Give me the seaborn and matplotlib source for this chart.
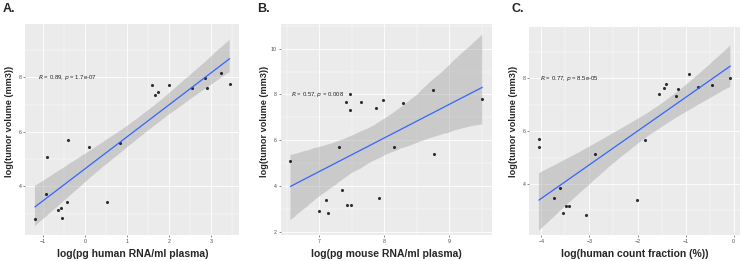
import numpy as np
import pandas as pd
import seaborn as sns
import matplotlib.pyplot as plt
from matplotlib.ticker import MultipleLocator

# ---- data ----
a_x = [-1.20, -0.94, -0.91, -0.66, -0.57, -0.55, -0.44, -0.40, 0.09, 0.53,
       0.84, 1.59, 1.67, 1.75, 1.99, 2.54, 2.86, 2.90, 3.24, 3.45]
a_y = [2.79, 3.73, 5.09, 3.15, 3.22, 2.83, 3.44, 5.72, 5.43, 3.43,
       5.60, 7.72, 7.34, 7.48, 7.73, 7.60, 7.98, 7.63, 8.18, 7.77]

b_x = [6.56, 7.00, 7.10, 7.14, 7.30, 7.35, 7.42, 7.43, 7.48, 7.47,
       7.49, 7.64, 7.88, 7.92, 7.99, 8.15, 8.29, 8.75, 8.77, 9.51]
b_y = [5.11, 2.90, 3.40, 2.82, 5.69, 3.82, 7.68, 3.15, 8.01, 7.34,
       3.15, 7.65, 7.40, 3.49, 7.74, 5.69, 7.62, 8.20, 5.40, 7.80]

c_x = [-4.05, -4.04, -3.74, -3.61, -3.55, -3.49, -3.43, -3.08, -2.88, -2.01,
       -1.85, -1.56, -1.46, -1.41, -1.21, -1.15, -0.93, -0.75, -0.45, -0.07]
c_y = [5.69, 5.42, 3.49, 3.84, 2.91, 3.17, 3.17, 2.82, 5.13, 3.41,
       5.68, 7.40, 7.64, 7.79, 7.34, 7.61, 8.18, 7.69, 7.74, 8.00]

panel_labels = ["A.", "B.", "C."]
x_labels = ["log(pg human RNA/ml plasma)", "log(pg mouse RNA/ml plasma)",
            "log(human count fraction (%))"]
y_label = "log(tumor volume (mm3))"
stats_r = ["0.89", "0.57", "0.77"]
stats_p = ["1.7e-07", "0.008", "8.5e-05"]

# ---- style ----
sns.set_theme(style="darkgrid")
plt.rcParams['font.family'] = ['Liberation Sans', 'DejaVu Sans']

fig = plt.figure(figsize=(7.47, 2.61), dpi=100)
W, H = 747, 261
boxes = [(25.3, 24, 239.3, 235), (280.7, 24, 492, 235), (529.3, 26.7, 740, 235)]
xlims = [(-1.43, 3.68), (6.41, 9.66), (-4.25, 0.13)]
ylims = [(2.22, 9.96), (1.86, 11.08), (2.07, 9.96)]
ann_xy = [(-1.12, 8.0), (6.57, 8.0), (-4.03, 8.0)]
xmaj = [1, 1, 1]
ymaj = [2, 2, 2]
label_x = [3, 257, 512]
ylab_right = [14, 269, 518]

datasets = [(a_x, a_y), (b_x, b_y), (c_x, c_y)]

for i, (xs, ys) in enumerate(datasets):
    l, t, r, b = boxes[i]
    ax = fig.add_axes([l / W, 1 - b / H, (r - l) / W, (b - t) / H])
    df = pd.DataFrame({"x": xs, "y": ys})
    sns.regplot(data=df, x="x", y="y", ax=ax, ci=95, n_boot=2000, seed=1,
                scatter_kws=dict(s=5, color="black", linewidths=0, zorder=3),
                line_kws=dict(color="#3366FF", lw=0.9, zorder=4))
    for coll in ax.collections:
        if coll.__class__.__name__ in ("PolyCollection", "FillBetweenPolyCollection"):
            coll.set_facecolor("#999999")
            coll.set_alpha(0.4)
            coll.set_edgecolor("none")
    ax.set_facecolor("#EBEBEB")
    ax.set_xlim(*xlims[i])
    ax.set_ylim(*ylims[i])
    ax.xaxis.set_major_locator(MultipleLocator(xmaj[i]))
    ax.xaxis.set_minor_locator(MultipleLocator(xmaj[i] / 2))
    ax.yaxis.set_major_locator(MultipleLocator(ymaj[i]))
    ax.yaxis.set_minor_locator(MultipleLocator(ymaj[i] / 2))
    ax.grid(which="major", color="white", lw=0.6)
    ax.grid(which="minor", color="white", lw=0.3)
    ax.set_axisbelow(True)
    for s in ax.spines.values():
        s.set_visible(False)
    ax.tick_params(which="major", length=1.2, width=0.4, color="#333333",
                   labelsize=3.8, labelcolor="#4D4D4D", pad=1.5,
                   bottom=True, left=True)
    ax.tick_params(which="minor", length=0)
    ax.set_xlabel(x_labels[i], fontsize=7.5, fontweight="bold", labelpad=2)
    ax.set_ylabel(y_label, fontsize=6.6, fontweight="bold")
    ax.yaxis.set_label_coords((ylab_right[i] - l) / (r - l), (235 - 121.5) / (b - t))
    ax.xaxis.set_label_coords(0.5, -(249 - b) / (b - t))
    ax.text(ann_xy[i][0], ann_xy[i][1],
            r"$\it{R}$ = " + stats_r[i] + r", $\it{p}$ = " + stats_p[i],
            fontsize=4.3, color="#222222", ha="left", va="center")
    fig.text(label_x[i] / W, 1 - 9.5 / H, panel_labels[i], fontsize=9,
             fontweight="bold", ha="left", va="center")

fig.savefig("out.png", dpi=100)
